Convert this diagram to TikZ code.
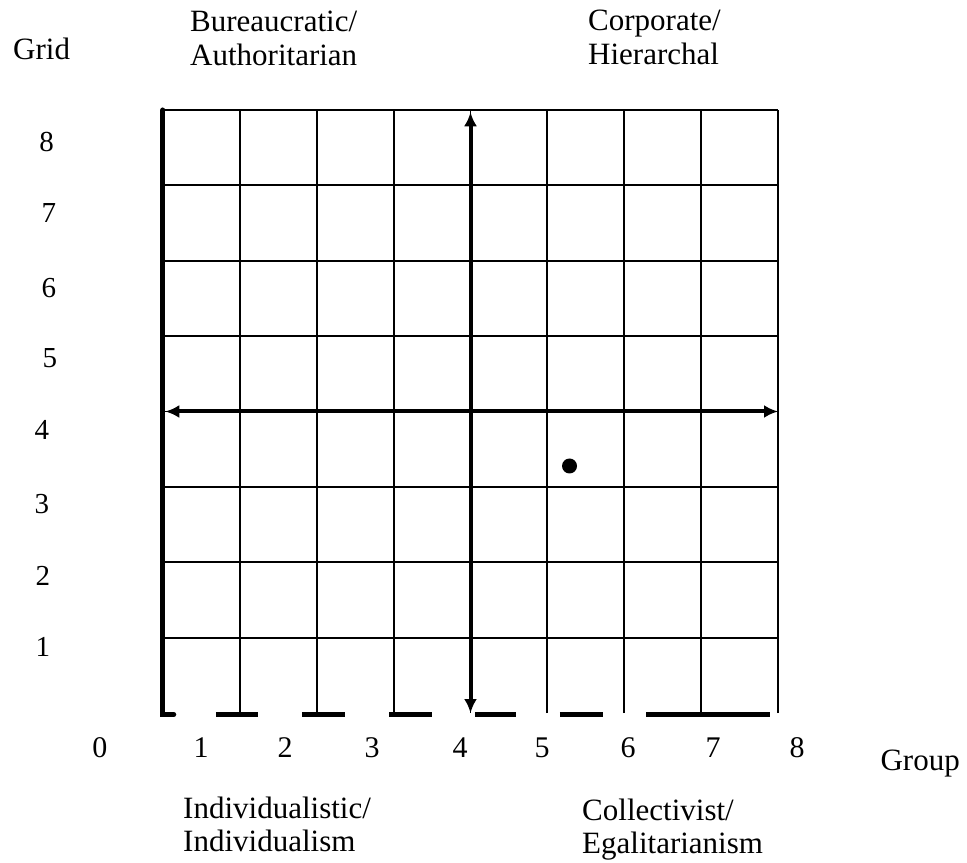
\documentclass[tikz,border=0pt]{standalone}
\usepackage{fontspec}
\setmainfont{Liberation Serif}
\usepackage{tikz}
\usetikzlibrary{arrows.meta, positioning}

\begin{document}
\begin{tikzpicture}[
    x=76.875pt, y=75.375pt,
    cell/.style={line width=1.8pt},
    axis/.style={line width=4pt, {Latex[length=14pt,width=13pt]}-{Latex[length=14pt,width=13pt]}},
    tick/.style={anchor=base, inner sep=0pt, font=\fontsize{29}{32}\selectfont},
    gtick/.style={anchor=base, inner sep=0pt, font=\fontsize{30}{33}\selectfont},
    quad/.style={align=left, anchor=north west, inner sep=0pt, font=\fontsize{31}{34}\selectfont},
    quadlow/.style={align=left, anchor=north west, inner sep=0pt, font=\fontsize{31}{33}\selectfont},
    axisname/.style={inner sep=0pt, font=\fontsize{31}{34}\selectfont}
]
    \useasboundingbox (-2.1203,-1.9768) rectangle (10.4585,9.4594);

    % Grid cells
    \foreach \i in {1,...,7} {
        \draw[cell] (\i,0) -- (\i,8);
        \draw[cell] (0,\i) -- (8,\i);
    }
    \draw[line width=2.7pt] (0,8) -- (8,8);
    \draw[line width=2.5pt] (8,0) -- (8,8);
    \draw[line width=5pt, line cap=round] (0,8) -- (0,-0.02) -- (0.14,-0.02);

    % Dashed bottom edge
    \foreach \a/\b in {0.689/1.236, 1.808/2.367, 2.94/3.499, 4.058/4.592, 5.164/5.724, 6.283/7.896}
        \draw[line width=5pt] (\a,-0.02) -- (\b,-0.02);

    % Axes
    \coordinate (gridtop) at (4,7.97);
    \coordinate (gridbot) at (4,0);
    \coordinate (groupleft) at (0.03,4);
    \coordinate (groupright) at (8,4);
    \draw[axis] (gridbot) -- (gridtop);
    \draw[axis] (groupleft) -- (groupright);

    % Position
    \node[circle, fill=black, inner sep=0pt, minimum size=15pt] (spot) at (5.288,3.277) {};

    % Grid numbers
    \node[tick] (g8) at (-1.513,7.443) {8};
    \node[tick] (g7) at (-1.483,6.501) {7};
    \node[tick] (g6) at (-1.483,5.519) {6};
    \node[tick] (g5) at (-1.47,4.590) {5};
    \node[tick] (g4) at (-1.574,3.622) {4};
    \node[tick] (g3) at (-1.574,2.653) {3};
    \node[tick] (g2) at (-1.561,1.698) {2};
    \node[tick] (g1) at (-1.561,0.756) {1};

    % Group numbers
    \node[gtick] (n0) at (-0.8195,-0.5837) {0};
    \node[gtick] (n1) at (0.4956,-0.5837) {1};
    \node[gtick] (n2) at (1.5870,-0.5837) {2};
    \node[gtick] (n3) at (2.7187,-0.5837) {3};
    \node[gtick] (n4) at (3.8634,-0.5837) {4};
    \node[gtick] (n5) at (4.9301,-0.5837) {5};
    \node[gtick] (n6) at (6.0488,-0.5837) {6};
    \node[gtick] (n7) at (7.1545,-0.5837) {7};
    \node[gtick] (n8) at (8.2472,-0.5837) {8};

    % Axis names
    \node[axisname, anchor=base west] (gridname) at (-1.9512,8.6633) {Grid};
    \node[axisname, anchor=base east] (groupname) at (10.3675,-0.7562) {Group};

    % Quadrants
    \node[quad] (bureau) at (0.3512,9.3134) {Bureaucratic/\\Authoritarian};
    \node[quad] (corp) at (5.5285,9.3267) {Corporate/\\Hierarchal};
    \node[quadlow] (indiv) at (0.2602,-1.1144) {Individualistic/\\Individualism};
    \node[quadlow] (collect) at (5.4504,-1.141) {Collectivist/\\Egalitarianism};

\end{tikzpicture}
\end{document}
